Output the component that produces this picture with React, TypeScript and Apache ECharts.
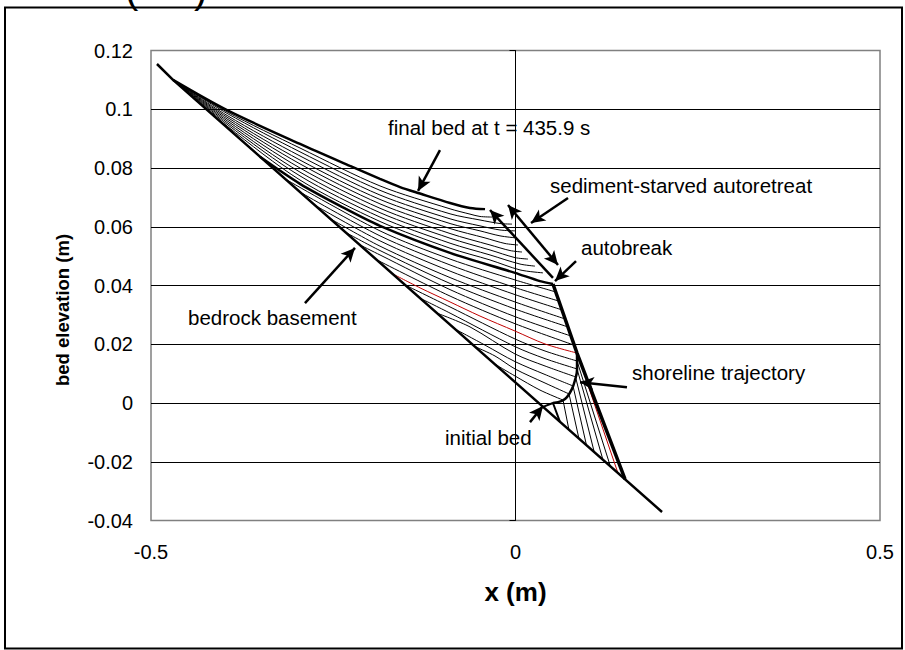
import React, { useEffect, useRef } from "react";
import * as echarts from "echarts";

// ---- axis ranges / ticks ----
const xMin = -0.5, xMax = 0.5, xStep = 0.5;
const yMin = -0.04, yMax = 0.12, yStep = 0.02;
const xTitle = "x (m)";
const yTitle = "bed elevation (m)";

// ---- bed profiles (x m, elevation m) ----
const bedrock = [[-0.4918, 0.1154], [-0.4698, 0.11], [0.201, -0.0371]];
const finalBed = [[-0.4698, 0.11], [-0.3957, 0.0997], [-0.2956, 0.0882], [-0.227, 0.0807], [-0.1859, 0.0763], [-0.1584, 0.0735], [-0.131, 0.0713], [-0.0898, 0.0681], [-0.0624, 0.0664], [-0.0418, 0.066]];
const autobreakBed = [[-0.3505, 0.0838], [-0.2956, 0.0746], [-0.2407, 0.0671], [-0.1859, 0.0603], [-0.0898, 0.0511], [-0.0007, 0.0443], [0.0336, 0.0415], [0.0514, 0.0405]];

const retreatBed1 = [[-0.4698, 0.11], [-0.3957, 0.0991], [-0.2956, 0.0868], [-0.1859, 0.0739], [-0.0898, 0.0661], [-0.0624, 0.0643], [-0.0487, 0.0635], [-0.0322, 0.0633]];
const retreatBed2 = [[-0.4698, 0.11], [-0.3957, 0.0986], [-0.2956, 0.0855], [-0.1859, 0.0724], [-0.0898, 0.0644], [-0.0487, 0.0623], [-0.0213, 0.0611], [-0.0048, 0.0609]];
const retreatBed3 = [[-0.4698, 0.11], [-0.3957, 0.0979], [-0.2956, 0.0841], [-0.1859, 0.0708], [-0.0898, 0.0627], [-0.0487, 0.0603], [-0.0213, 0.0589], [-0.0007, 0.0586]];
const retreatBed4 = [[-0.4698, 0.11], [-0.3957, 0.0973], [-0.2956, 0.0827], [-0.1859, 0.0693], [-0.0898, 0.0611], [-0.0487, 0.0586], [-0.0213, 0.0569], [0.0007, 0.0562]];
const retreatBed5 = [[-0.4698, 0.11], [-0.3957, 0.0967], [-0.2956, 0.0814], [-0.1859, 0.0678], [-0.0898, 0.0594], [-0.0418, 0.0562], [-0.0144, 0.0543], [0.0034, 0.0538]];
const retreatBed6 = [[-0.4698, 0.11], [-0.3957, 0.0961], [-0.2956, 0.08], [-0.1859, 0.0663], [-0.0898, 0.0577], [-0.035, 0.0538], [-0.0075, 0.0519], [0.0089, 0.0514]];
const retreatBed7 = [[-0.4698, 0.11], [-0.3957, 0.0955], [-0.2956, 0.0786], [-0.1859, 0.0648], [-0.0898, 0.0561], [-0.035, 0.0521], [-0.0007, 0.0495], [0.0171, 0.049]];
const retreatBed8 = [[-0.4698, 0.11], [-0.3957, 0.0949], [-0.2956, 0.0773], [-0.1859, 0.0633], [-0.0898, 0.0544], [-0.035, 0.0504], [0.0062, 0.0473], [0.0267, 0.0466]];
const retreatBed9 = [[-0.4698, 0.11], [-0.3957, 0.0943], [-0.2956, 0.0759], [-0.1859, 0.0618], [-0.0898, 0.0527], [-0.035, 0.0487], [0.0062, 0.0453], [0.0377, 0.0443]];

const progradeBed1 = [[-0.3162, 0.0763], [-0.1859, 0.0586], [-0.0898, 0.049], [-0.0007, 0.0419], [0.0553, 0.0378]];
const progradeBed2 = [[-0.2956, 0.0718], [-0.1859, 0.0569], [-0.0898, 0.047], [-0.0007, 0.0393], [0.0595, 0.0347]];
const progradeBed3 = [[-0.275, 0.0673], [-0.1859, 0.0552], [-0.0898, 0.0449], [-0.0007, 0.0369], [0.0638, 0.0317]];
const progradeBed4 = [[-0.2545, 0.0628], [-0.1859, 0.0534], [-0.0898, 0.0427], [-0.0007, 0.0344], [0.0682, 0.0286]];
const progradeBed5 = [[-0.2339, 0.0582], [-0.1859, 0.0519], [-0.0898, 0.0407], [-0.0007, 0.032], [0.072, 0.0259]];
const progradeBed6 = [[-0.2133, 0.0538], [-0.1859, 0.0504], [-0.0898, 0.0386], [-0.0007, 0.0294], [0.0763, 0.0228]];
const progradeBed7 = [[-0.19, 0.0487], [-0.0898, 0.0364], [-0.0007, 0.027], [0.0805, 0.0197]];
const redBed = [[-0.168, 0.0439], [-0.131, 0.0392], [-0.0898, 0.0344], [-0.0487, 0.0296], [-0.0007, 0.0245], [0.0405, 0.0201], [0.0844, 0.017]];
const progradeBed9 = [[-0.1516, 0.0402], [-0.0898, 0.0327], [-0.0007, 0.0218], [0.0405, 0.0177], [0.0844, 0.0143]];
const progradeBed10 = [[-0.131, 0.0357], [-0.0898, 0.0306], [-0.0007, 0.0192], [0.0405, 0.0151], [0.0844, 0.0116]];
const progradeBed11 = [[-0.1077, 0.0306], [-0.0624, 0.0259], [-0.0007, 0.0167], [0.0405, 0.0126], [0.0823, 0.0089]];
const progradeBed12 = [[-0.083, 0.0252], [-0.0418, 0.0197], [-0.0007, 0.0141], [0.0405, 0.0097], [0.0789, 0.0058]];
const progradeBed13 = [[-0.0556, 0.0192], [-0.0281, 0.016], [-0.0007, 0.0116], [0.0405, 0.0068], [0.0734, 0.0031]];
const progradeBed14 = [[-0.0281, 0.0132], [-0.0007, 0.0092], [0.0336, 0.0044], [0.0652, 0.001]];

const shorelineTrajectory = [[0.0514, 0.0], [0.0638, 0.0007], [0.0706, 0.002], [0.0775, 0.0048], [0.0816, 0.0078], [0.0844, 0.0112], [0.0844, 0.014], [0.0844, 0.017]];
const retreatAndForeset = [[0.0514, 0.0405], [0.0844, 0.017], [0.1502, -0.0259]];
const foreset14 = [[0.0652, 0.001], [0.0733, -0.0091]];
const foreset13 = [[0.0734, 0.0031], [0.087, -0.0121]];
const foreset12 = [[0.0789, 0.0058], [0.0973, -0.0143]];
const foreset11 = [[0.0823, 0.0089], [0.108, -0.0167]];
const foreset10 = [[0.0844, 0.0116], [0.1199, -0.0193]];
const foreset9 = [[0.0844, 0.0143], [0.1302, -0.0216]];
const redForeset = [[0.0844, 0.017], [0.1406, -0.0239]];
const initialBed = [[0.0377, -0.0013], [0.0514, 0.0], [0.061, -0.0064]];

// ---- annotation arrows (tail, head) ----
const arrowFinalBed = [[-0.1036, 0.0861], [-0.1337, 0.0722]];
const arrowStarved = [[0.072, 0.0698], [0.0213, 0.0613]];
const arrowRetreatPath = [[0.0514, 0.0426], [-0.035, 0.0657]];
const arrowDouble = [[-0.0103, 0.0674], [0.0583, 0.047]];
const arrowAutobreak = [[0.083, 0.0483], [0.0542, 0.0415]];
const arrowBedrock = [[-0.2888, 0.034], [-0.2202, 0.0528]];
const arrowShoreline = [[0.1529, 0.0054], [0.0885, 0.0071]];
const arrowInitial = [[0.0199, -0.0065], [0.0377, -0.001]];

const labels = [
  "final bed at t = 435.9 s",
  "sediment-starved autoretreat",
  "autobreak",
  "bedrock basement",
  "shoreline trajectory",
  "initial bed",
];

const FONT = '"Liberation Sans", Arial, sans-serif';

function line(data: number[][], width: number, color = "#000", z = 2, smooth: number | boolean = false) {
  return {
    type: "line",
    data,
    showSymbol: false,
    symbol: "none",
    smooth,
    silent: true,
    z,
    lineStyle: { width, color },
  };
}

export default function App() {
  const ref = useRef<HTMLDivElement>(null);
  useEffect(() => {
    if (!ref.current) return;
    const chart = echarts.init(ref.current, undefined, { renderer: "svg" });

    const retreatBeds = [retreatBed1, retreatBed2, retreatBed3, retreatBed4, retreatBed5, retreatBed6, retreatBed7, retreatBed8, retreatBed9];
    const progradeBeds = [progradeBed1, progradeBed2, progradeBed3, progradeBed4, progradeBed5, progradeBed6, progradeBed7, progradeBed9, progradeBed10, progradeBed11, progradeBed12, progradeBed13, progradeBed14];
    const foresets = [foreset14, foreset13, foreset12, foreset11, foreset10, foreset9];

    const single = (a: number[][]) => [
      { coord: a[0], symbol: "none" },
      { coord: a[1], symbol: "arrow" },
    ];
    const both = (a: number[][]) => [
      { coord: a[0], symbol: "arrow" },
      { coord: a[1], symbol: "arrow" },
    ];

    const series: any[] = [
      ...retreatBeds.map((d) => line(d, 1, "#000", 2, 0.3)),
      ...progradeBeds.map((d) => line(d, 1, "#000", 2, 0.3)),
      ...foresets.map((d) => line(d, 1, "#000", 2)),
      line(redBed, 1, "#c00000", 3, 0.3),
      line(redForeset, 1, "#c00000", 3),
      line(finalBed, 2.5, "#000", 4, 0.3),
      line(autobreakBed, 2.5, "#000", 4, 0.3),
      line(bedrock, 2.5, "#000", 4),
      line(shorelineTrajectory, 2.5, "#000", 4, 0.4),
      line(retreatAndForeset, 3.5, "#000", 4),
      line(initialBed, 2, "#000", 4),
      {
        type: "line",
        data: [],
        silent: true,
        markLine: {
          silent: true,
          animation: false,
          symbolSize: [10, 14],
          label: { show: false },
          emphasis: { disabled: true },
          lineStyle: { color: "#000", width: 2.5, type: "solid" },
          data: [
            single(arrowFinalBed),
            single(arrowStarved),
            single(arrowRetreatPath),
            both(arrowDouble),
            single(arrowAutobreak),
            single(arrowBedrock),
            single(arrowShoreline),
            single(arrowInitial),
          ],
        },
      },
    ];

    const txt = (text: string, x: number, y: number) => ({
      type: "text",
      x,
      y,
      z: 50,
      style: { text, fontSize: 20.5, fontFamily: FONT, fill: "#000", align: "left", verticalAlign: "middle" },
    });

    chart.setOption({
      animation: false,
      backgroundColor: "#fff",
      grid: {
        left: 151,
        right: 25,
        top: 50.5,
        bottom: 129.5,
        show: true,
        borderColor: "#808080",
        borderWidth: 1.5,
        backgroundColor: "transparent",
      },
      xAxis: {
        type: "value",
        min: xMin,
        max: xMax,
        interval: xStep,
        axisLine: { show: false },
        axisTick: { show: false },
        splitLine: { show: false },
        axisLabel: { fontSize: 20, fontFamily: FONT, color: "#000", margin: 21 },
        name: xTitle,
        nameLocation: "middle",
        nameGap: 58,
        nameTextStyle: { fontSize: 26, fontWeight: "bold", fontFamily: FONT, color: "#000" },
      },
      yAxis: [
        {
          type: "value",
          min: yMin,
          max: yMax,
          interval: yStep,
          axisLine: { show: false },
          axisTick: { show: false },
          splitLine: { show: true, showMinLine: false, showMaxLine: false, lineStyle: { color: "#000", width: 1 } },
          axisLabel: { fontSize: 20, fontFamily: FONT, color: "#000", margin: 18 },
        },
        {
          type: "value",
          min: yMin,
          max: yMax,
          interval: yStep,
          position: "left",
          offset: -364.5,
          axisLine: { show: true, onZero: false, lineStyle: { color: "#000", width: 1 } },
          axisTick: { show: true, inside: false, length: 6, lineStyle: { color: "#000", width: 1 } },
          axisLabel: { show: false },
          splitLine: { show: false },
        },
      ],
      series,
      graphic: [
        {
          type: "rect",
          shape: { x: 5, y: 7.5, width: 897, height: 641 },
          style: { fill: "none", stroke: "#000", lineWidth: 2 },
          z: 60,
          silent: true,
        },
        {
          type: "text",
          x: 125,
          y: 9,
          z: 60,
          style: { text: "(     )", fontSize: 40, fontFamily: FONT, fill: "#000", align: "left", verticalAlign: "bottom" },
        },
        txt(labels[0], 388, 127),
        txt(labels[1], 550, 185),
        txt(labels[2], 581, 247),
        txt(labels[3], 188, 317),
        txt(labels[4], 632, 372),
        txt(labels[5], 445, 437),
        {
          type: "text",
          x: 62,
          y: 310,
          rotation: Math.PI / 2,
          z: 50,
          style: { text: yTitle, fontSize: 18.5, fontWeight: "bold", fontFamily: FONT, fill: "#000", align: "center", verticalAlign: "middle" },
        },
      ],
    });
    return () => chart.dispose();
  }, []);

  return (
    <div
      ref={ref}
      style={{ position: "fixed", left: 0, top: 0, width: 905, height: 650, background: "#fff" }}
    />
  );
}
